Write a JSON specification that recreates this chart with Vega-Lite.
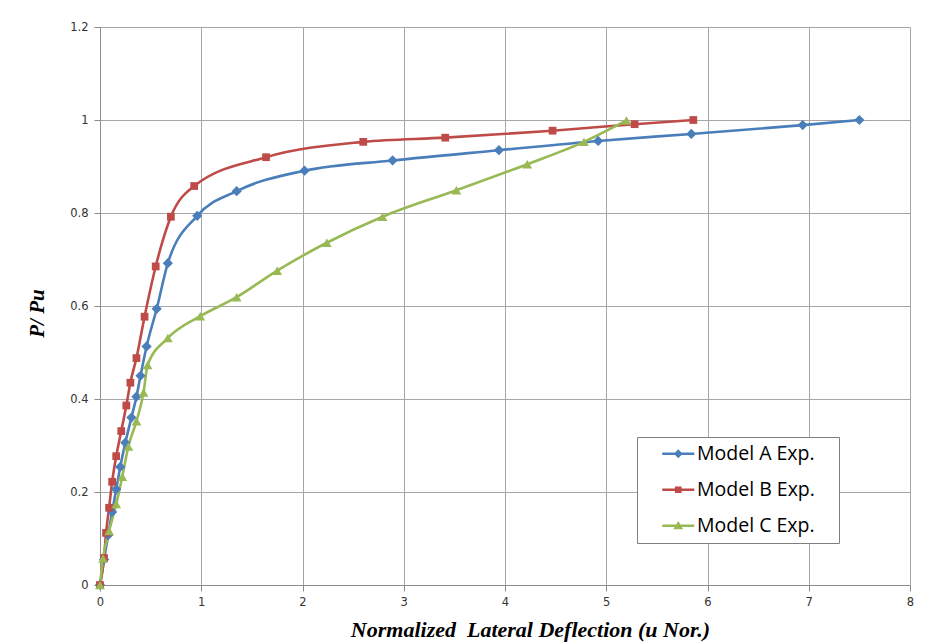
{
  "$schema": "https://vega.github.io/schema/vega-lite/v6.json",
  "width": 810,
  "height": 558,
  "autosize": {"type": "none"},
  "padding": {"left": 100, "top": 27, "right": 28, "bottom": 58},
  "background": "white",
  "config": {"view": {"stroke": null}, "font": "DejaVu Sans"},
  "datasets": {
    "curves": [
      {"series": "Model A Exp.", "deflection": 0, "load_ratio": 0},
      {"series": "Model A Exp.", "deflection": 0.04, "load_ratio": 0.055},
      {"series": "Model A Exp.", "deflection": 0.08, "load_ratio": 0.107},
      {"series": "Model A Exp.", "deflection": 0.12, "load_ratio": 0.157},
      {"series": "Model A Exp.", "deflection": 0.16, "load_ratio": 0.206},
      {"series": "Model A Exp.", "deflection": 0.2, "load_ratio": 0.254},
      {"series": "Model A Exp.", "deflection": 0.25, "load_ratio": 0.306},
      {"series": "Model A Exp.", "deflection": 0.31, "load_ratio": 0.36},
      {"series": "Model A Exp.", "deflection": 0.36, "load_ratio": 0.405},
      {"series": "Model A Exp.", "deflection": 0.4, "load_ratio": 0.45},
      {"series": "Model A Exp.", "deflection": 0.46, "load_ratio": 0.513},
      {"series": "Model A Exp.", "deflection": 0.56, "load_ratio": 0.594},
      {"series": "Model A Exp.", "deflection": 0.67, "load_ratio": 0.692},
      {"series": "Model A Exp.", "deflection": 0.96, "load_ratio": 0.794},
      {"series": "Model A Exp.", "deflection": 1.35, "load_ratio": 0.847},
      {"series": "Model A Exp.", "deflection": 2.02, "load_ratio": 0.891},
      {"series": "Model A Exp.", "deflection": 2.89, "load_ratio": 0.913},
      {"series": "Model A Exp.", "deflection": 3.94, "load_ratio": 0.935},
      {"series": "Model A Exp.", "deflection": 4.92, "load_ratio": 0.955},
      {"series": "Model A Exp.", "deflection": 5.84, "load_ratio": 0.97},
      {"series": "Model A Exp.", "deflection": 6.94, "load_ratio": 0.989},
      {"series": "Model A Exp.", "deflection": 7.5, "load_ratio": 1.0},
      {"series": "Model B Exp.", "deflection": 0, "load_ratio": 0},
      {"series": "Model B Exp.", "deflection": 0.04, "load_ratio": 0.058},
      {"series": "Model B Exp.", "deflection": 0.06, "load_ratio": 0.112},
      {"series": "Model B Exp.", "deflection": 0.09, "load_ratio": 0.166},
      {"series": "Model B Exp.", "deflection": 0.12, "load_ratio": 0.222},
      {"series": "Model B Exp.", "deflection": 0.16, "load_ratio": 0.277},
      {"series": "Model B Exp.", "deflection": 0.21, "load_ratio": 0.331},
      {"series": "Model B Exp.", "deflection": 0.26, "load_ratio": 0.386},
      {"series": "Model B Exp.", "deflection": 0.3, "load_ratio": 0.435},
      {"series": "Model B Exp.", "deflection": 0.36, "load_ratio": 0.488},
      {"series": "Model B Exp.", "deflection": 0.44, "load_ratio": 0.577},
      {"series": "Model B Exp.", "deflection": 0.55, "load_ratio": 0.685},
      {"series": "Model B Exp.", "deflection": 0.7, "load_ratio": 0.792},
      {"series": "Model B Exp.", "deflection": 0.93, "load_ratio": 0.858},
      {"series": "Model B Exp.", "deflection": 1.64, "load_ratio": 0.92},
      {"series": "Model B Exp.", "deflection": 2.6, "load_ratio": 0.953},
      {"series": "Model B Exp.", "deflection": 3.41, "load_ratio": 0.962},
      {"series": "Model B Exp.", "deflection": 4.47, "load_ratio": 0.977},
      {"series": "Model B Exp.", "deflection": 5.28, "load_ratio": 0.991},
      {"series": "Model B Exp.", "deflection": 5.86, "load_ratio": 1.0},
      {"series": "Model C Exp.", "deflection": 0, "load_ratio": 0},
      {"series": "Model C Exp.", "deflection": 0.03, "load_ratio": 0.057},
      {"series": "Model C Exp.", "deflection": 0.09, "load_ratio": 0.116},
      {"series": "Model C Exp.", "deflection": 0.16, "load_ratio": 0.174},
      {"series": "Model C Exp.", "deflection": 0.22, "load_ratio": 0.233},
      {"series": "Model C Exp.", "deflection": 0.28, "load_ratio": 0.298},
      {"series": "Model C Exp.", "deflection": 0.36, "load_ratio": 0.352},
      {"series": "Model C Exp.", "deflection": 0.43, "load_ratio": 0.414},
      {"series": "Model C Exp.", "deflection": 0.47, "load_ratio": 0.473},
      {"series": "Model C Exp.", "deflection": 0.67, "load_ratio": 0.531},
      {"series": "Model C Exp.", "deflection": 0.99, "load_ratio": 0.578},
      {"series": "Model C Exp.", "deflection": 1.35, "load_ratio": 0.619},
      {"series": "Model C Exp.", "deflection": 1.75, "load_ratio": 0.676},
      {"series": "Model C Exp.", "deflection": 2.24, "load_ratio": 0.736},
      {"series": "Model C Exp.", "deflection": 2.79, "load_ratio": 0.792},
      {"series": "Model C Exp.", "deflection": 3.52, "load_ratio": 0.849},
      {"series": "Model C Exp.", "deflection": 4.22, "load_ratio": 0.905},
      {"series": "Model C Exp.", "deflection": 4.78, "load_ratio": 0.953},
      {"series": "Model C Exp.", "deflection": 5.2, "load_ratio": 0.999}
    ]
  },
  "data": {"name": "curves"},
  "encoding": {
    "x": {
      "field": "deflection",
      "type": "quantitative",
      "scale": {"domain": [0, 8], "nice": false, "zero": true},
      "axis": {
        "title": "Normalized\u00a0 Lateral Deflection (u Nor.)",
        "values": [0, 1, 2, 3, 4, 5, 6, 7, 8],
        "format": "~g",
        "grid": true,
        "gridColor": "#a6a6a6",
        "gridWidth": 1,
        "domainColor": "#8c8c8c",
        "tickColor": "#8c8c8c",
        "tickSize": 6,
        "labelFont": "DejaVu Sans",
        "labelFontSize": 11.5,
        "labelColor": "#333333",
        "labelPadding": 5,
        "labelFlush": false,
        "labelOverlap": false,
        "titleFont": "Liberation Serif",
        "titleFontStyle": "italic",
        "titleFontWeight": "bold",
        "titleFontSize": 22,
        "titleColor": "#000000",
        "titlePadding": 12,
        "titleX": 430
      }
    },
    "y": {
      "field": "load_ratio",
      "type": "quantitative",
      "scale": {"domain": [0, 1.2], "nice": false},
      "axis": {
        "title": "P/ Pu",
        "values": [0, 0.2, 0.4, 0.6, 0.8, 1, 1.2],
        "format": "~g",
        "grid": true,
        "gridColor": "#a6a6a6",
        "gridWidth": 1,
        "domainColor": "#8c8c8c",
        "tickColor": "#8c8c8c",
        "tickSize": 6,
        "labelFont": "DejaVu Sans",
        "labelFontSize": 11.5,
        "labelColor": "#333333",
        "labelPadding": 6,
        "labelFlush": false,
        "labelOverlap": false,
        "titleFont": "Liberation Serif",
        "titleFontStyle": "italic",
        "titleFontWeight": "bold",
        "titleFontSize": 21,
        "titleColor": "#000000",
        "titlePadding": 22,
        "titleY": 286
      }
    }
  },
  "resolve": {"legend": {"color": "independent", "shape": "independent"}},
  "layer": [
    {
      "mark": {"type": "line", "interpolate": "monotone", "strokeWidth": 2.6},
      "encoding": {
        "detail": {"field": "series"},
        "color": {
          "field": "series",
          "type": "nominal",
          "scale": {"domain": ["Model A Exp.", "Model B Exp.", "Model C Exp."], "range": ["#4A7EBB", "#BE4B48", "#98B954"]},
          "legend": null
        }
      }
    },
    {
      "transform": [{"filter": "datum.series === 'Model A Exp.'"}],
      "mark": {"type": "point", "shape": "diamond", "filled": true, "size": 105, "opacity": 1, "strokeWidth": 1},
      "encoding": {"color": {"field": "series", "type": "nominal", "legend": null}}
    },
    {
      "transform": [{"filter": "datum.series === 'Model B Exp.'"}],
      "mark": {"type": "point", "shape": "square", "filled": true, "size": 60, "opacity": 1, "strokeWidth": 1},
      "encoding": {"color": {"field": "series", "type": "nominal", "legend": null}}
    },
    {
      "transform": [{"filter": "datum.series === 'Model C Exp.'"}],
      "mark": {"type": "point", "shape": "triangle-up", "filled": true, "size": 95, "opacity": 1, "strokeWidth": 1},
      "encoding": {"color": {"field": "series", "type": "nominal", "legend": null}}
    },
    {
      "mark": {"type": "point", "filled": true, "opacity": 0},
      "encoding": {
        "color": {
          "field": "series",
          "type": "nominal",
          "legend": {
            "orient": "none",
            "legendX": 537,
            "legendY": 410,
            "title": null,
            "symbolSize": 256,
            "symbolStrokeWidth": 0,
            "symbolOffset": 24.5,
            "labelOffset": 9,
            "labelFont": "Open Sans",
            "labelFontSize": 19.5,
            "labelColor": "#000000",
            "padding": 7,
            "rowPadding": 15,
            "strokeColor": "#7f7f7f",
            "fillColor": "#ffffff",
            "encode": {"symbols": {"update": {"opacity": {"value": 1}}}}
          }
        },
        "shape": {
          "field": "series",
          "type": "nominal",
          "scale": {
            "domain": ["Model A Exp.", "Model B Exp.", "Model C Exp."],
            "range": [
              "M-2,-0.16H2V0.16H-2Z M0,-0.55L0.55,0L0,0.55L-0.55,0Z M19.1,0",
              "M-2,-0.16H2V0.16H-2Z M-0.42,-0.42H0.42V0.42H-0.42Z M19.1,0",
              "M-2,-0.16H2V0.16H-2Z M0,-0.6L0.62,0.45H-0.62Z M19.1,0"
            ]
          },
          "legend": {
            "orient": "none",
            "legendX": 537,
            "legendY": 410,
            "title": null,
            "symbolSize": 256,
            "symbolStrokeWidth": 0,
            "symbolOffset": 24.5,
            "labelOffset": 9,
            "labelFont": "Open Sans",
            "labelFontSize": 19.5,
            "labelColor": "#000000",
            "padding": 7,
            "rowPadding": 15,
            "strokeColor": "#7f7f7f",
            "fillColor": "#ffffff",
            "encode": {"symbols": {"update": {"opacity": {"value": 1}}}}
          }
        }
      }
    }
  ]
}
